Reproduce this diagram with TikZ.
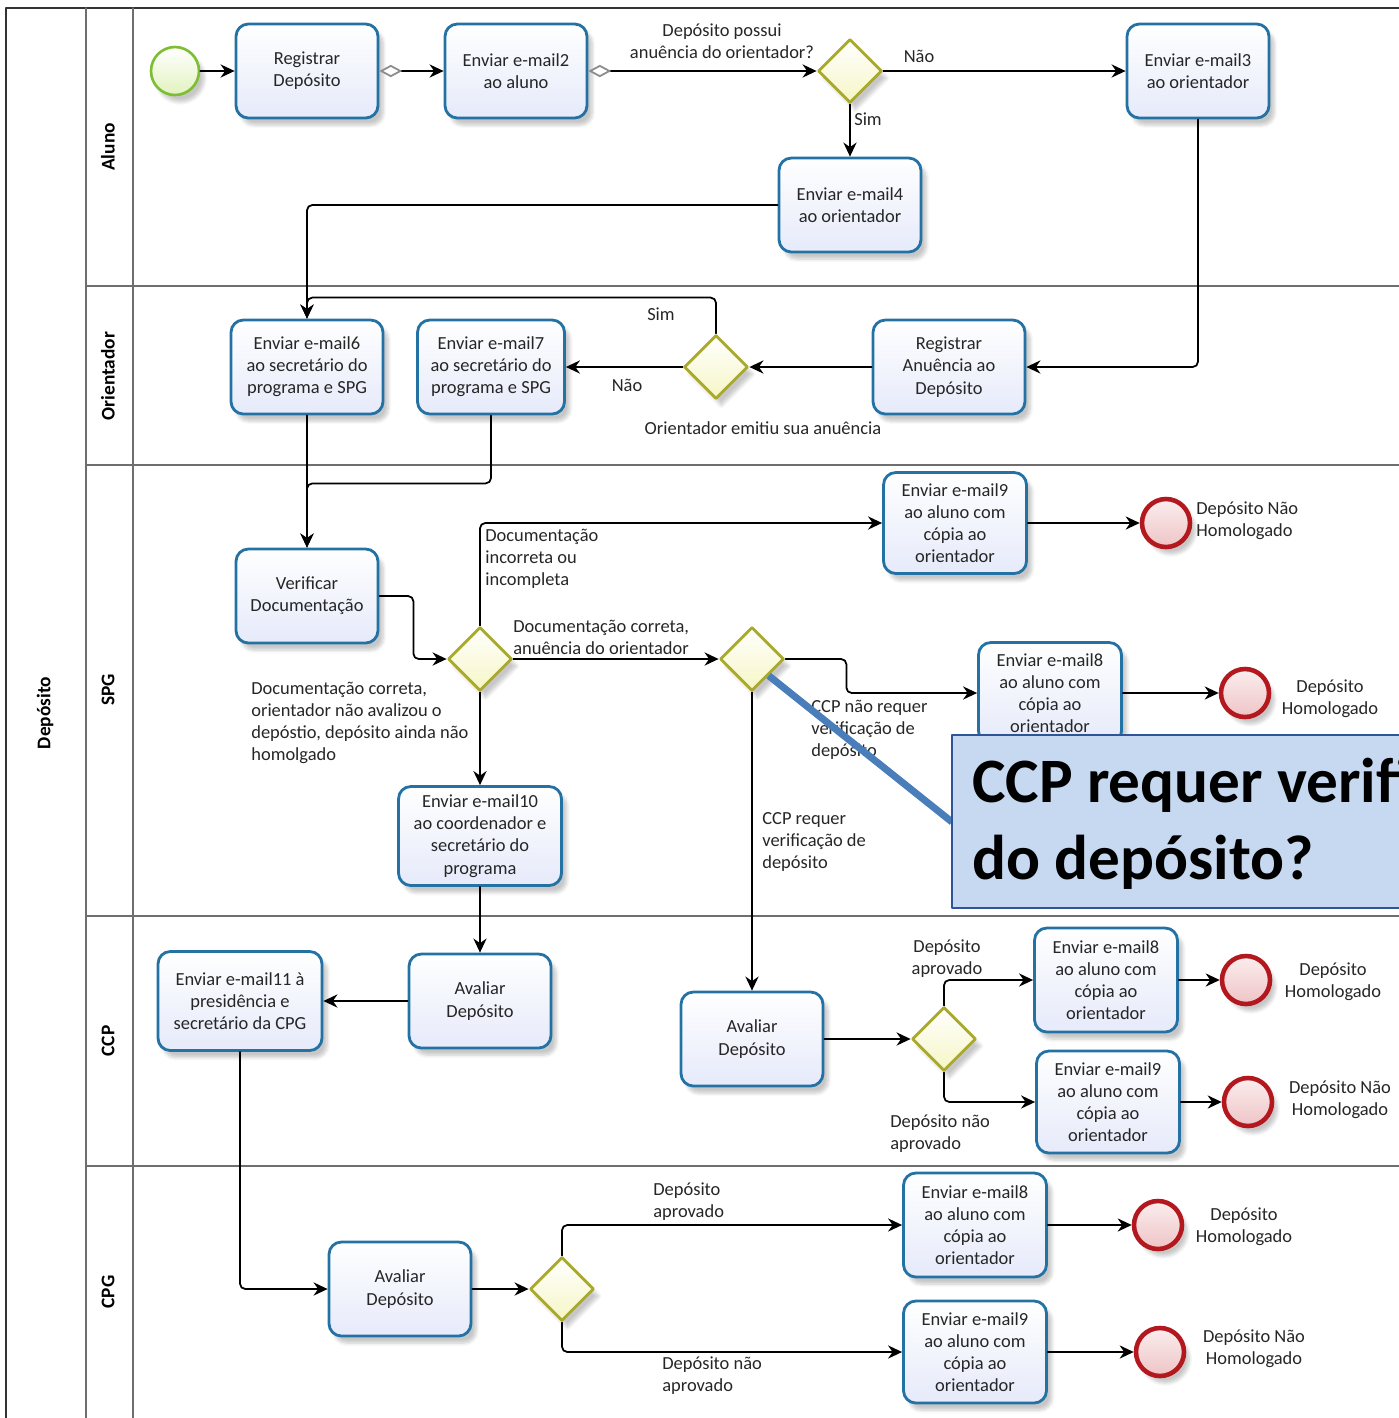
\documentclass[tikz,border=0pt]{standalone}
\usepackage{fontspec}
\setmainfont{Carlito}
\usetikzlibrary{shapes.geometric,arrows.meta,shadows.blur,calc}

\definecolor{taskline}{HTML}{2472A4}
\definecolor{taskfill}{HTML}{E6EAFA}
\definecolor{gwline}{HTML}{A9A92C}
\definecolor{gwfill}{HTML}{F6F6C6}
\definecolor{startline}{HTML}{7DBE34}
\definecolor{startfill}{HTML}{E2F2BE}
\definecolor{endline}{HTML}{B2181E}
\definecolor{endfill}{HTML}{EFC4C6}
\definecolor{lanegray}{HTML}{6E6E6E}
\definecolor{notefill}{HTML}{C6D9F0}
\definecolor{noteborder}{HTML}{2F5597}
\definecolor{noteline}{HTML}{4A7EBB}

\begin{document}
\begin{tikzpicture}[x=0.02cm,y=-0.02cm,line join=round,line cap=round,
  >={Stealth[length=8pt,width=7.5pt]},font=\fontsize{10.5}{12.6}\selectfont]
\tikzset{task/.style={rectangle,rounded corners=7pt,draw=taskline,line width=1.6pt,
    top color=white,bottom color=taskfill,minimum width=2.84cm,minimum height=1.88cm,
    align=center,inner sep=2pt,text=black!85,
    blur shadow={shadow xshift=3pt,shadow yshift=-4pt,shadow opacity=22,shadow blur steps=6}},
  gateway/.style={diamond,draw=gwline,line width=1.6pt,top color=white,bottom color=gwfill,
    minimum width=1.28cm,minimum height=1.28cm,inner sep=0pt,
    blur shadow={shadow xshift=3pt,shadow yshift=-4pt,shadow opacity=22,shadow blur steps=6}},
  startev/.style={circle,draw=startline,line width=1.5pt,top color=white,bottom color=startfill,
    minimum size=0.96cm,inner sep=0pt,
    blur shadow={shadow xshift=3pt,shadow yshift=-4pt,shadow opacity=22,shadow blur steps=6}},
  endev/.style={circle,draw=endline,line width=2.6pt,top color=endfill!30,bottom color=endfill,
    minimum size=0.96cm,inner sep=0pt,
    blur shadow={shadow xshift=3pt,shadow yshift=-4pt,shadow opacity=22,shadow blur steps=6}},
  flow/.style={->,line width=1pt,rounded corners=3pt},
  cond/.style={{Diamond[color=black!45,fill=white,length=13pt,width=7pt]}->,line width=1pt},
  flowtext/.style={inner sep=0pt,text=black!85},
  lanename/.style={rotate=90,font=\fontsize{11}{13}\selectfont\bfseries},
  lane/.style={draw=lanegray,line width=1pt}}

\useasboundingbox (0,0) rectangle (1399,1418);
\begin{scope}
\clip (0,0) rectangle (1399,1418);

% pool and lanes
\draw[line width=1.1pt,draw=black!80] (6,1430) -- (6,8) -- (1430,8);
\draw[lane] (86,8) -- (86,1430);
\draw[lane] (133,8) -- (133,1430);
\foreach \y in {286,465,916,1166}
  \draw[lane] (86,\y) -- (1430,\y);
\node[lanename] (pool) at (45,713) {Depósito};
\foreach \t/\y in {Aluno/147,Orientador/376,SPG/690,CCP/1041,CPG/1292}
  \node[lanename] (lane-\t) at (108,\y) {\t};

% Aluno
\node[startev] (start) at (175,71) {};
\node[task] (reg) at (307,71) {Registrar\\Depósito};
\node[task] (m2) at (516,71) {Enviar e-mail2\\ao aluno};
\node[gateway] (g1) at (850,71) {};
\node[task] (m3) at (1198,71) {Enviar e-mail3\\ao orientador};
\node[task] (m4) at (850,205) {Enviar e-mail4\\ao orientador};

% Orientador
\node[task,minimum width=3.04cm] (anu) at (949,367) {Registrar\\Anuência ao\\Depósito};
\node[gateway] (g2) at (716,367) {};
\node[task,minimum width=2.94cm] (m7) at (491,367) {Enviar e-mail7\\ao secretário do\\programa e SPG};
\node[task,minimum width=3.04cm] (m6) at (307,367) {Enviar e-mail6\\ao secretário do\\programa e SPG};

% SPG
\node[task] (verif) at (307,596) {Verificar\\Documentação};
\node[gateway] (g3) at (480,659) {};
\node[gateway] (g4) at (752,659) {};
\node[task,minimum width=2.86cm,minimum height=2.02cm] (m9a) at (955,523) {Enviar e-mail9\\ao aluno com\\cópia ao\\orientador};
\node[endev] (end1) at (1166,523) {};
\node[task,minimum width=2.86cm,minimum height=2.02cm] (m8a) at (1050,693) {Enviar e-mail8\\ao aluno com\\cópia ao\\orientador};
\node[endev] (end2) at (1245,693) {};
\node[task,minimum width=3.26cm,minimum height=1.98cm] (m10) at (480,836) {Enviar e-mail10\\ao coordenador e\\secretário do\\programa};

% CCP
\node[task] (av1) at (480,1001) {Avaliar\\Depósito};
\node[task,minimum width=3.28cm,minimum height=1.98cm] (m11) at (240,1001) {Enviar e-mail11 à\\presidência e\\secretário da CPG};
\node[task] (av2) at (752,1039) {Avaliar\\Depósito};
\node[gateway] (g5) at (944,1039) {};
\node[task,minimum width=2.86cm,minimum height=2.08cm] (m8b) at (1106,980) {Enviar e-mail8\\ao aluno com\\cópia ao\\orientador};
\node[endev] (end3) at (1246,980) {};
\node[task,minimum width=2.86cm,minimum height=2.04cm] (m9b) at (1108,1102) {Enviar e-mail9\\ao aluno com\\cópia ao\\orientador};
\node[endev] (end4) at (1248,1102) {};

% CPG
\node[task] (av3) at (400,1289) {Avaliar\\Depósito};
\node[gateway] (g6) at (562,1289) {};
\node[task,minimum width=2.86cm,minimum height=2.08cm] (m8c) at (975,1225) {Enviar e-mail8\\ao aluno com\\cópia ao\\orientador};
\node[endev] (end5) at (1158,1225) {};
\node[task,minimum width=2.86cm,minimum height=2.04cm] (m9c) at (975,1352) {Enviar e-mail9\\ao aluno com\\cópia ao\\orientador};
\node[endev] (end6) at (1160,1352) {};

% sequence flows
\draw[flow] (start) -- (reg);
\draw[cond] (reg) -- (m2);
\draw[cond] (m2) -- (g1);
\draw[flow] (g1) -- (m3);
\draw[flow] (g1) -- (m4);
\draw[flow] (m4.west) -| (m6.north);
\draw[flow] (m3.south) |- (anu.east);
\draw[flow] (anu) -- (g2);
\draw[flow] (g2) -- (m7);
\draw[flow] (g2.north) -- ++(0,-36) -| (m6.north);
\draw[flow] (m6) -- (verif);
\draw[flow] (m7.south) -- ++(0,68) -| (verif.north);
\draw[flow] (verif.east) -- ++(34,0) |- (g3.west);
\draw[flow] (g3.north) |- (m9a.west);
\draw[flow] (g3) -- (g4);
\draw[flow] (g3) -- (m10);
\draw[flow] (g4.east) -- ++(61,0) |- (m8a.west);
\draw[flow] (g4.south) -- (g4.south |- av2.north);
\draw[flow] (m9a) -- (end1);
\draw[flow] (m8a) -- (end2);
\draw[flow] (m10) -- (av1);
\draw[flow] (av1) -- (m11);
\draw[flow] (m11.south) |- (av3.west);
\draw[flow] (av2) -- (g5);
\draw[flow] (g5.north) |- (m8b.west);
\draw[flow] (g5.south) |- (m9b.west);
\draw[flow] (m8b) -- (end3);
\draw[flow] (m9b) -- (end4);
\draw[flow] (av3) -- (g6);
\draw[flow] (g6.north) |- (m8c.west);
\draw[flow] (g6.south) |- (m9c.west);
\draw[flow] (m8c) -- (end5);
\draw[flow] (m9c) -- (end6);

% flow labels
\node[flowtext,align=center] (t-g1) at (722,41) {Depósito possui\\anuência do orientador?};
\node[flowtext] (t-nao1) at (919,56) {Não};
\node[flowtext] (t-sim1) at (868,119) {Sim};
\node[flowtext] (t-sim2) at (661,314) {Sim};
\node[flowtext] (t-nao2) at (627,385) {Não};
\node[flowtext] (t-g2) at (763,428) {Orientador emitiu sua anuência};
\node[flowtext,align=left,anchor=west] (t-inc) at (485,559) {Documentação\\incorreta ou\\incompleta};
\node[flowtext,align=left,anchor=west] (t-ok) at (513,637) {Documentação correta,\\anuência do orientador};
\node[flowtext,align=left,anchor=west] (t-aval) at (251,723) {Documentação correta,\\orientador não avalizou o\\depóstio, depósito ainda não\\homolgado};
\node[flowtext,align=left,anchor=west] (t-nreq) at (811,730) {CCP não requer\\verificação de\\depósito};
\node[flowtext,align=left,anchor=west] (t-req) at (762,842) {CCP requer\\verificação de\\depósito};
\node[flowtext,align=center] (t-apr1) at (947,959) {Depósito\\aprovado};
\node[flowtext,align=left,anchor=west] (t-napr1) at (890,1134) {Depósito não\\aprovado};
\node[flowtext,align=left,anchor=west] (t-apr2) at (653,1202) {Depósito\\aprovado};
\node[flowtext,align=left,anchor=west] (t-napr2) at (662,1376) {Depósito não\\aprovado};
\node[flowtext,align=left,anchor=west] (t-end1) at (1196,521) {Depósito Não\\Homologado};
\node[flowtext,align=center] (t-end2) at (1330,699) {Depósito\\Homologado};
\node[flowtext,align=center] (t-end3) at (1333,982) {Depósito\\Homologado};
\node[flowtext,align=center] (t-end4) at (1340,1100) {Depósito Não\\Homologado};
\node[flowtext,align=center] (t-end5) at (1244,1227) {Depósito\\Homologado};
\node[flowtext,align=center] (t-end6) at (1254,1349) {Depósito Não\\Homologado};

% callout
\coordinate (notept) at (952,822);
\draw[draw=noteline,line width=4pt,line cap=butt] (g4.south east) -- (notept);
\draw[fill=notefill,draw=noteborder,line width=1pt] (952,735) rectangle (1430,908);
\node[anchor=west,align=left,inner sep=0pt,font=\fontsize{36}{44}\selectfont\bfseries] (note) at (972,824) {CCP requer verificação\\do depósito?};
\end{scope}
\end{tikzpicture}
\end{document}
